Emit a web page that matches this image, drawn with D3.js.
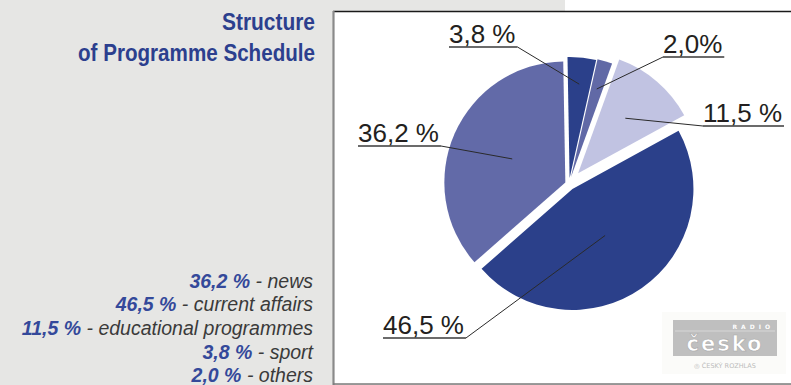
<!DOCTYPE html>
<html>
<head>
<meta charset="utf-8">
<script src="https://cdn.jsdelivr.net/npm/d3@7/dist/d3.min.js"></script>
<style>
  html, body { margin: 0; padding: 0; background: #e6e6e4; }
  svg { display: block; }
</style>
</head>
<body>
<script>
// Programme schedule shares (%), in legend order
const categories = ["news", "current affairs", "educational programmes", "sport", "others"];
const shares = [36.2, 46.5, 11.5, 3.8, 2.0];
// Clockwise order of the slices, starting at twelve o'clock
const pieOrder = ["sport", "others", "educational programmes", "current affairs", "news"];
const labelSuffix = { "news": " %", "current affairs": " %", "educational programmes": " %", "sport": " %", "others": "%" };
const titleLines = ["Structure", "of Programme Schedule"];

const W = 791, H = 385;
const fmt = v => d3.format(".1f")(v).replace(".", ",");

const colour = d3.scaleOrdinal()
  .domain(pieOrder)
  .range(["#2b408a", "#6169a6", "#c1c3e2", "#2b408a", "#626aa8"]);

// per-slice explode distance and leader-end radius fraction
const explode = { "sport": 6, "others": 7, "educational programmes": 14, "current affairs": 6, "news": 4 };
const leaderR = { "sport": 0.78, "others": 0.76, "educational programmes": 0.6, "current affairs": 0.47, "news": 0.48 };
// label anchor: text start x, baseline y, side the leader leaves from
const labelSpot = {
  "sport": { x: 449, y: 43, side: "right" },
  "others": { x: 663, y: 53, side: "left" },
  "educational programmes": { x: 703, y: 122, side: "left" },
  "news": { x: 358, y: 142, side: "right" },
  "current affairs": { x: 383, y: 334, side: "right" }
};

const svg = d3.select("body").append("svg").attr("width", W).attr("height", H);

// backdrop: grey page, white panel
svg.append("rect").attr("width", W).attr("height", H).attr("fill", "#e6e6e4");
svg.append("rect").attr("x", 565).attr("y", 0).attr("width", W - 565).attr("height", 12).attr("fill", "#ffffff");
svg.append("rect").attr("x", 334).attr("y", 11).attr("width", W - 334).attr("height", 373).attr("fill", "#ffffff");
svg.append("line").attr("x1", 333).attr("x2", W).attr("y1", 11.5).attr("y2", 11.5)
  .attr("stroke", "#1a1a1a").attr("stroke-width", 1.6);
svg.append("line").attr("x1", 333.5).attr("x2", 333.5).attr("y1", 11).attr("y2", H)
  .attr("stroke", "#8a8a8a").attr("stroke-width", 2.2);
svg.append("line").attr("x1", 333).attr("x2", W).attr("y1", 384).attr("y2", 384)
  .attr("stroke", "#7a7a7a").attr("stroke-width", 1.5);

// title
const title = svg.append("g").attr("fill", "#2c3f8e")
  .attr("font-family", "'Liberation Sans Narrow', 'Arial Narrow', 'Liberation Sans', Arial, sans-serif")
  .attr("font-weight", "bold").attr("font-size", 24).attr("text-anchor", "end");
const titleWidths = [93, 237];
titleLines.forEach((t, i) => {
  title.append("text").attr("x", 315).attr("y", 30 + i * 30.5)
    .attr("textLength", titleWidths[i]).attr("lengthAdjust", "spacingAndGlyphs")
    .text(t);
});

// legend
const legend = svg.append("g")
  .attr("font-family", "'Liberation Sans', Arial, sans-serif")
  .attr("font-size", 19.5).attr("font-style", "italic").attr("text-anchor", "end");
categories.forEach((c, i) => {
  const t = legend.append("text").attr("x", 313).attr("y", 287.5 + i * 23.7);
  t.append("tspan").attr("fill", "#34499a").attr("font-weight", "bold").text(fmt(shares[i]) + " %");
  t.append("tspan").attr("fill", "#3a3a3a").text(" - " + c);
});

// pie
const cx = 569, cy = 184, R = 121;
const valueOf = Object.fromEntries(categories.map((c, i) => [c, shares[i]]));
const pieData = pieOrder.map(c => ({ name: c, value: valueOf[c] }));
const startA = -1 * Math.PI / 180;
const arcs = d3.pie().sort(null).value(d => d.value)
  .startAngle(startA).endAngle(startA + 2 * Math.PI)(pieData);
const arcGen = d3.arc().innerRadius(0).outerRadius(R);

const pieG = svg.append("g").attr("transform", `translate(${cx},${cy})`);
const unit = a => [Math.sin(a), -Math.cos(a)];

pieG.selectAll("path").data(arcs).join("path")
  .attr("d", arcGen)
  .attr("fill", d => colour(d.data.name))
  .attr("transform", d => {
    const m = (d.startAngle + d.endAngle) / 2, [ux, uy] = unit(m), k = explode[d.data.name];
    return `translate(${ux * k},${uy * k})`;
  });

// value labels with underline and leader
const labG = svg.append("g")
  .attr("font-family", "'Liberation Sans', Arial, sans-serif").attr("font-size", 26).attr("fill", "#231f20");
arcs.forEach(d => {
  const name = d.data.name, s = labelSpot[name];
  const txt = labG.append("text").attr("x", s.x).attr("y", s.y).text(fmt(d.data.value) + labelSuffix[name]);
  const w = txt.node().getComputedTextLength() + 2;
  const uy = s.y + 4;
  labG.append("line").attr("x1", s.x).attr("x2", s.x + w).attr("y1", uy).attr("y2", uy)
    .attr("stroke", "#3a3a3a").attr("stroke-width", 1.4);
  const m = (d.startAngle + d.endAngle) / 2, [ux, uyv] = unit(m);
  const rr = leaderR[name] * R + explode[name];
  const px = cx + ux * rr, py = cy + uyv * rr;
  const sx = s.side === "right" ? s.x + w : s.x;
  labG.append("line").attr("x1", sx).attr("y1", uy).attr("x2", px).attr("y2", py)
    .attr("stroke", "#2a2a2a").attr("stroke-width", 1);
});

// broadcaster badge, bottom right
const logo = svg.append("g").attr("opacity", 0.85);
logo.append("rect").attr("x", 662).attr("y", 312).attr("width", 124).attr("height", 62).attr("fill", "#fbfbf8");
logo.append("rect").attr("x", 673).attr("y", 320).attr("width", 104).attr("height", 36).attr("fill", "#b4b4b4");
logo.append("line").attr("x1", 675).attr("x2", 775).attr("y1", 331).attr("y2", 331).attr("stroke", "#d8d8d8").attr("stroke-width", 0.8);
logo.append("text").attr("x", 774).attr("y", 329).attr("text-anchor", "end")
  .attr("font-family", "'DejaVu Sans', sans-serif").attr("font-weight", "bold").attr("font-size", 6)
  .attr("letter-spacing", 4).attr("fill", "#ffffff").text("RADIO");
logo.append("text").attr("x", 725).attr("y", 351).attr("text-anchor", "middle")
  .attr("font-family", "'DejaVu Sans', sans-serif").attr("font-weight", "bold").attr("font-size", 21)
  .attr("letter-spacing", 2).attr("fill", "#ffffff").attr("stroke", "#9a9a9a").attr("stroke-width", 0.6)
  .text("česko");
logo.append("text").attr("x", 725).attr("y", 368).attr("text-anchor", "middle")
  .attr("font-family", "'DejaVu Sans', sans-serif").attr("font-size", 6.5).attr("fill", "#b0b0b0")
  .text("◎ ČESKÝ ROZHLAS");
</script>
</body>
</html>
